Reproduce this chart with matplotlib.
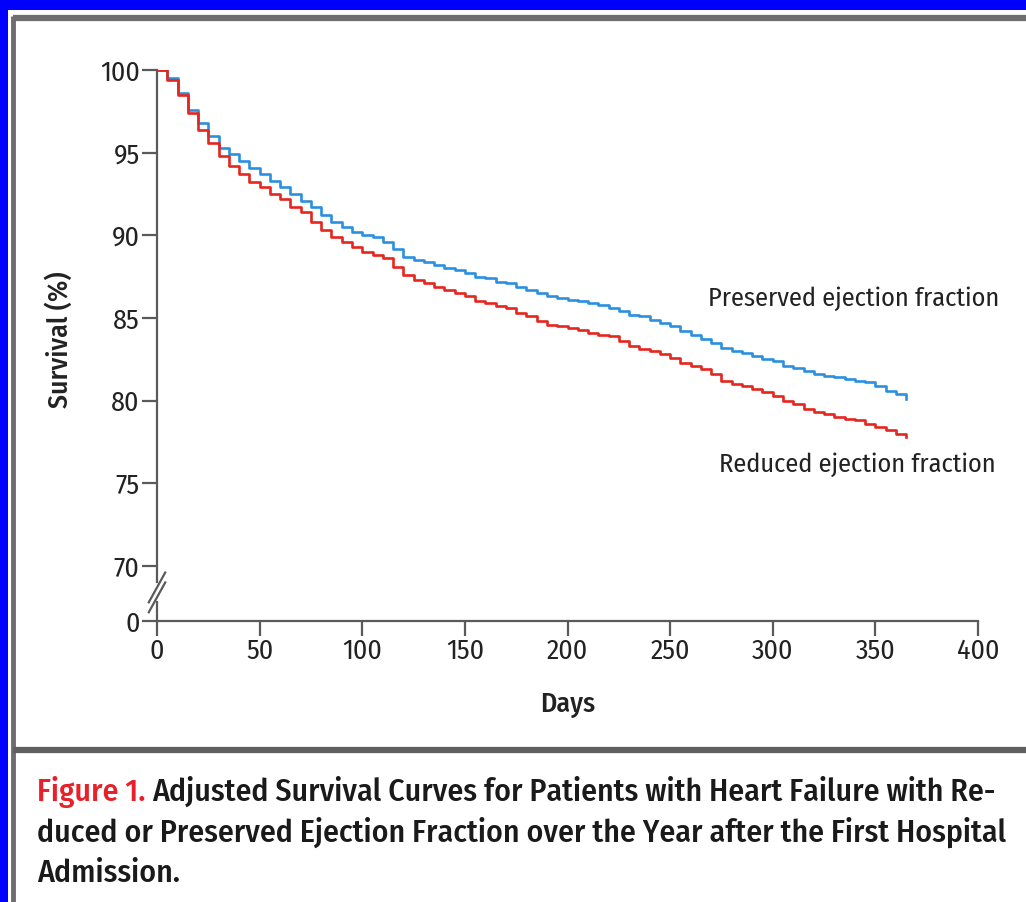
import matplotlib
matplotlib.use("Agg")
import matplotlib.pyplot as plt
from matplotlib.lines import Line2D
from matplotlib.patches import Rectangle

# Survival (%) over the first year after admission, read every 5 days
days = list(range(0, 366, 5))
preserved = [
    100.0, 99.5, 98.6, 97.6, 96.8, 96.0, 95.3, 94.9, 94.5, 94.1,
    93.7, 93.3, 92.9, 92.5, 92.1, 91.7, 91.2, 90.8, 90.5, 90.2,
    90.0, 89.9, 89.6, 89.2, 88.7, 88.5, 88.4, 88.2, 88.0, 87.9,
    87.7, 87.5, 87.4, 87.2, 87.1, 86.9, 86.7, 86.5, 86.3, 86.2,
    86.1, 86.0, 85.9, 85.8, 85.6, 85.4, 85.2, 85.1, 84.9, 84.7,
    84.5, 84.2, 84.0, 83.7, 83.5, 83.2, 83.0, 82.9, 82.7, 82.5,
    82.4, 82.1, 82.0, 81.8, 81.6, 81.5, 81.4, 81.3, 81.2, 81.1,
    80.9, 80.6, 80.4, 80.1,
]
reduced = [
    100.0, 99.4, 98.5, 97.4, 96.4, 95.6, 94.8, 94.2, 93.7, 93.2,
    92.9, 92.5, 92.2, 91.7, 91.4, 90.8, 90.3, 89.9, 89.6, 89.3,
    89.0, 88.8, 88.6, 88.1, 87.6, 87.3, 87.1, 86.9, 86.7, 86.5,
    86.3, 86.0, 85.9, 85.7, 85.6, 85.3, 85.1, 84.8, 84.6, 84.5,
    84.4, 84.3, 84.1, 84.0, 83.9, 83.6, 83.3, 83.1, 83.0, 82.8,
    82.6, 82.3, 82.1, 81.9, 81.6, 81.2, 81.0, 80.9, 80.7, 80.5,
    80.3, 80.0, 79.8, 79.5, 79.3, 79.2, 79.0, 78.9, 78.8, 78.6,
    78.4, 78.2, 78.0, 77.8,
]

x_ticks = [0, 50, 100, 150, 200, 250, 300, 350, 400]
y_ticks = [70, 75, 80, 85, 90, 95, 100]
# the axis is broken below 70; zero sits just under the break
y_zero_pos = 66.67

series_labels = ["Preserved ejection fraction", "Reduced ejection fraction"]
caption_lead = "Figure 1."
caption_lines = [
    "Adjusted Survival Curves for Patients with Heart Failure with Re-",
    "duced or Preserved Ejection Fraction over the Year after the First Hospital",
    "Admission.",
]

BLUE = "#2B8FE0"
RED = "#E5261E"
AXIS = "#5a5a5a"
TXT = "#222222"
FONT = ["Fira Sans Condensed", "DejaVu Sans"]

W, H = 1026, 902
fig = plt.figure(figsize=(W / 100, H / 100), dpi=100)
fig.patch.set_facecolor("white")


def fx(px):
    return px / W


def fy(py):
    return 1 - py / H


# outer blue frame (top and left) and grey panel rules
fig.add_artist(Rectangle((0, fy(10)), 1, 10 / H, transform=fig.transFigure,
                         facecolor="#0000FF", edgecolor="none"))
fig.add_artist(Rectangle((0, 0), 8 / W, 1, transform=fig.transFigure,
                         facecolor="#0000FF", edgecolor="none"))
fig.add_artist(Line2D([fx(13), 1], [fy(18), fy(18)], transform=fig.transFigure,
                      color="#6e6e6e", lw=4.5, solid_capstyle="butt"))
fig.add_artist(Line2D([fx(13), fx(13)], [fy(16), 0], transform=fig.transFigure,
                      color="#6e6e6e", lw=3.5, solid_capstyle="butt"))
fig.add_artist(Line2D([fx(13), 1], [fy(750), fy(750)], transform=fig.transFigure,
                      color="#606060", lw=4.5, solid_capstyle="butt"))

# plotting area
left, right, top, bottom = 157, 978, 70, 621
ax = fig.add_axes([fx(left), fy(bottom), (right - left) / W, (bottom - top) / H])
ax.set_xlim(0, 400)
ax.set_ylim(y_zero_pos, 100)

ax.plot(days, preserved, drawstyle="steps-post", color=BLUE, lw=1.9, zorder=3)
ax.plot(days, reduced, drawstyle="steps-post", color=RED, lw=1.9, zorder=4)

for s in ("top", "right"):
    ax.spines[s].set_visible(False)
for s in ("left", "bottom"):
    ax.spines[s].set_color(AXIS)
    ax.spines[s].set_linewidth(1.6)
ax.spines["left"].set_bounds(69.0, 100)
# lower piece of the broken axis and the break marks
ax.plot([0, 0], [y_zero_pos, 67.9], color=AXIS, lw=1.6, clip_on=False,
        solid_capstyle="butt", zorder=5)
for yb in (68.1, 68.7):
    ax.plot([-4.0, 4.0], [yb - 0.9, yb + 0.9], color=AXIS, lw=1.6,
            clip_on=False, zorder=5)

ax.set_xticks(x_ticks)
ax.set_xticklabels([str(v) for v in x_ticks])
ax.set_yticks([y_zero_pos] + y_ticks)
ax.set_yticklabels(["0"] + [str(v) for v in y_ticks])
ax.tick_params(axis="both", direction="out", length=10.5, width=1.6,
               color=AXIS, labelcolor=TXT, labelsize=20, pad=2)
for lab in ax.get_xticklabels() + ax.get_yticklabels():
    lab.set_family(FONT)
    lab.set_fontweight("normal")

fig.text(fx(568), fy(705), "Days", fontsize=20, family=FONT, color=TXT,
         fontweight="medium", ha="center", va="center")
fig.text(fx(60), fy(340), "Survival (%)", fontsize=20, family=FONT, color=TXT,
         fontweight="medium", ha="center", va="center", rotation=90)

ax.text(268.5, 86.15, series_labels[0], fontsize=19, family=FONT,
        fontweight="normal", color=TXT, va="center", ha="left", clip_on=False)
ax.text(274.0, 76.16, series_labels[1], fontsize=19, family=FONT,
        fontweight="normal", color=TXT, va="center", ha="left", clip_on=False)

# caption
cap_size = 22.8
t1 = fig.text(fx(37), fy(801), caption_lead, color="#E8202A", fontsize=cap_size,
              family=FONT, fontweight="medium", va="baseline", ha="left")
fig.canvas.draw()
ext = t1.get_window_extent()
fig.text((ext.x1 + 7) / W, fy(801), caption_lines[0],
         color="#1a1a1a", fontsize=cap_size, family=FONT, fontweight="medium",
         va="baseline", ha="left")
for text, base in zip(caption_lines[1:], (842, 882)):
    fig.text(fx(37), fy(base), text, color="#1a1a1a", fontsize=cap_size,
             family=FONT, fontweight="medium", va="baseline", ha="left")

fig.savefig("out.png", dpi=100)
